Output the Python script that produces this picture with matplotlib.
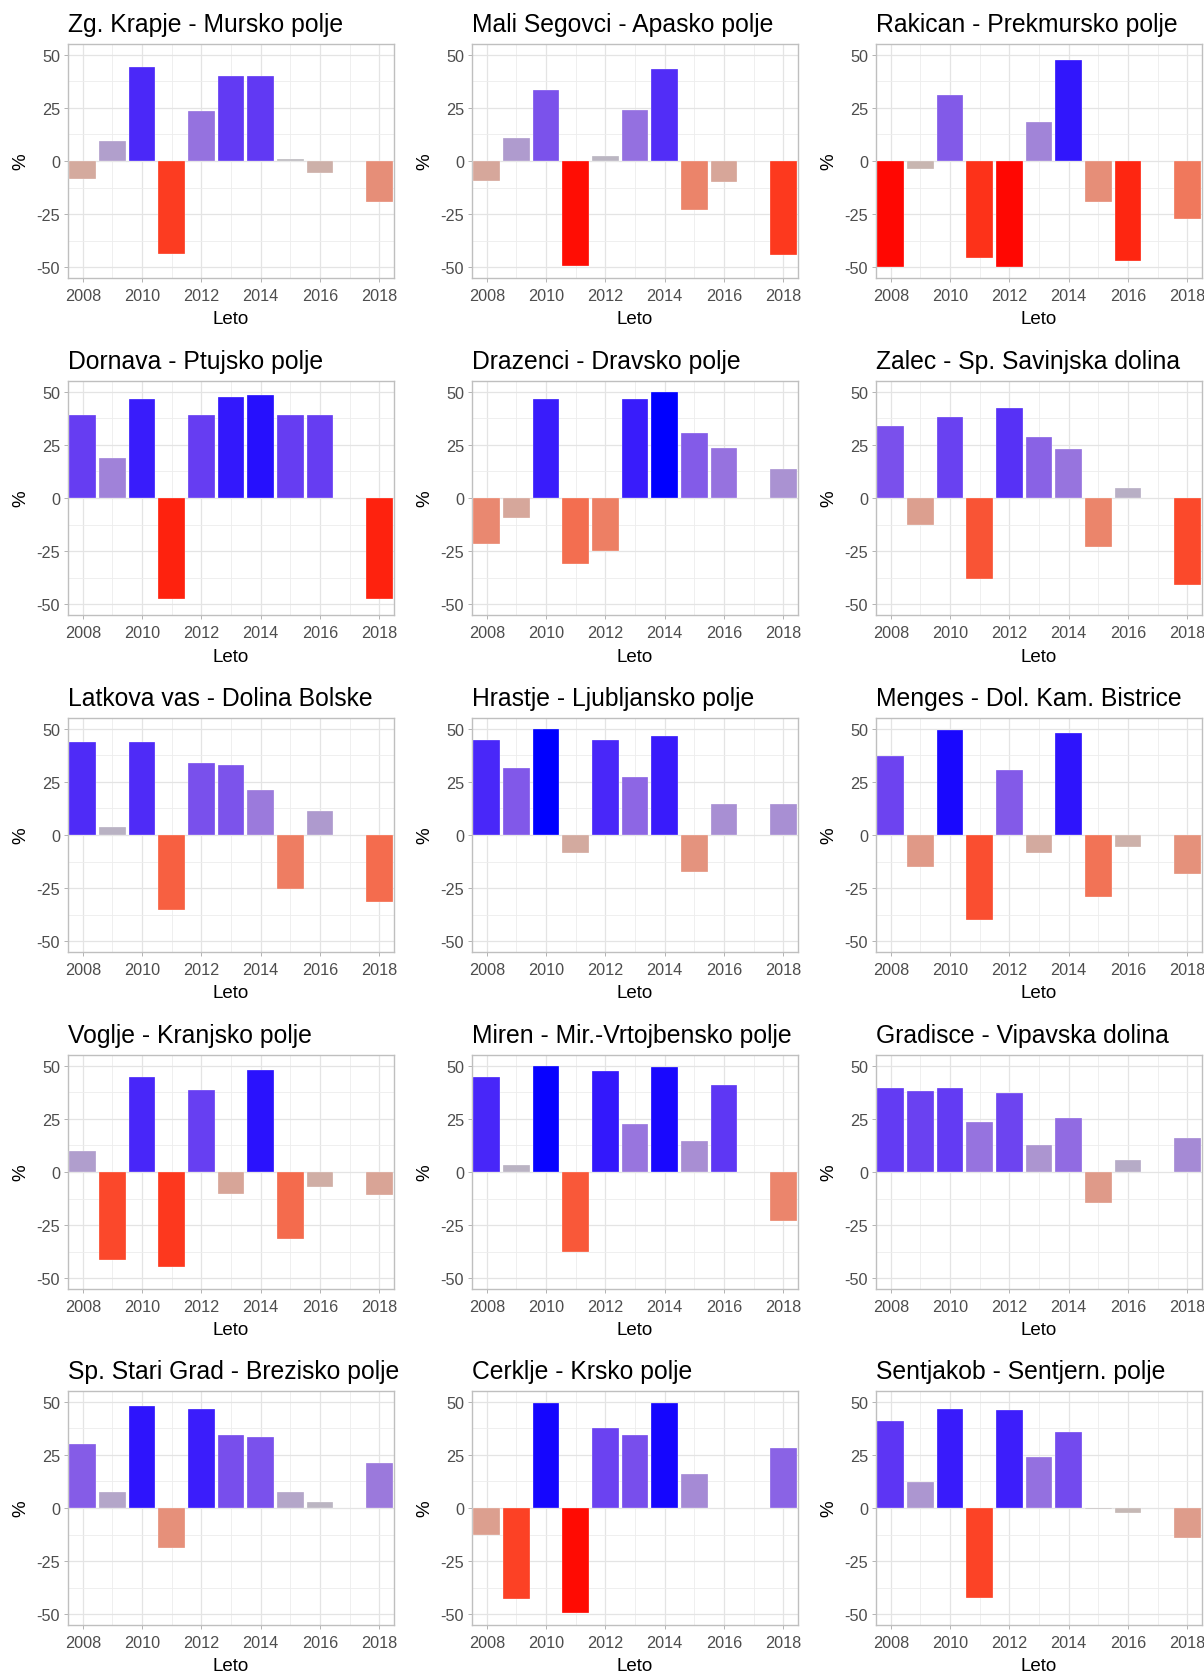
import numpy as np
import matplotlib
matplotlib.use('Agg')
import matplotlib.pyplot as plt

plt.rcParams['font.family'] = ['Liberation Sans', 'DejaVu Sans']

nan = np.nan
years = list(range(2008, 2019))

titles = [
    'Zg. Krapje - Mursko polje', 'Mali Segovci - Apasko polje', 'Rakican - Prekmursko polje',
    'Dornava - Ptujsko polje', 'Drazenci - Dravsko polje', 'Zalec - Sp. Savinjska dolina',
    'Latkova vas - Dolina Bolske', 'Hrastje - Ljubljansko polje', 'Menges - Dol. Kam. Bistrice',
    'Voglje - Kranjsko polje', 'Miren - Mir.-Vrtojbensko polje', 'Gradisce - Vipavska dolina',
    'Sp. Stari Grad - Brezisko polje', 'Cerklje - Krsko polje', 'Sentjakob - Sentjern. polje',
]

zg_krapje = [-8.6, 9.6, 44.2, -43.7, 23.7, 39.8, 40.1, 0.9, -5.8, nan, -19.4]
mali_segovci = [-9.6, 10.8, 33.2, -49.4, 2.4, 24.1, 43.1, -23.2, -10.0, nan, -44.4]
rakican = [-49.7, -3.6, 30.9, -45.6, -49.7, 18.1, 47.5, -19.4, -47.2, nan, -27.4]
dornava = [39.0, 18.6, 46.6, -47.7, 39.0, 47.3, 48.4, 39.0, 39.0, nan, -47.7]
drazenci = [-21.6, -9.5, 46.6, -30.9, -25.0, 46.6, 50.0, 30.6, 23.6, nan, 13.6]
zalec = [33.7, -12.8, 38.1, -38.3, 42.2, 28.6, 23.0, -23.0, 4.8, nan, -41.1]
latkova_vas = [43.5, 3.6, 43.5, -35.1, 33.9, 32.9, 21.0, -25.6, 11.2, nan, -31.3]
hrastje = [44.5, 31.3, 50.0, -8.4, 44.5, 27.2, 46.7, -17.6, 14.7, nan, 14.7]
menges = [37.3, -15.2, 49.2, -39.9, 30.7, -8.4, 47.8, -29.1, -5.5, nan, -18.5]
voglje = [10.1, -41.2, 44.6, -44.5, 38.6, -10.4, 48.1, -31.7, -6.9, nan, -11.0]
miren = [44.6, 3.5, 49.8, -37.4, 47.3, 22.6, 49.2, 14.8, 40.7, nan, -22.9]
gradisce = [39.6, 38.0, 39.6, 23.3, 37.1, 12.6, 25.6, -14.7, 5.8, nan, 16.1]
sp_stari_grad = [30.1, 7.6, 47.8, -18.9, 46.4, 34.2, 33.6, 7.6, 2.7, nan, 21.3]
cerklje = [-12.9, -42.7, 49.4, -49.5, 37.7, 34.2, 49.4, 16.1, nan, nan, 28.2]
sentjakob = [41.0, 12.3, 46.7, -42.4, 46.2, 24.1, 35.6, -0.7, -2.5, nan, -13.9]

series = [zg_krapje, mali_segovci, rakican, dornava, drazenci, zalec,
          latkova_vas, hrastje, menges, voglje, miren, gradisce,
          sp_stari_grad, cerklje, sentjakob]

# diverging fill red - grey - blue, interpolated in Lab like ggplot's gradient2
M = np.array([[0.4124564, 0.3575761, 0.1804375],
              [0.2126729, 0.7151522, 0.0721750],
              [0.0193339, 0.1191920, 0.9503041]])
Minv = np.linalg.inv(M)
white = np.array([0.95047, 1.0, 1.08883])


def to_lab(c):
    c = np.asarray(c, float)
    lin = np.where(c <= 0.04045, c / 12.92, ((c + 0.055) / 1.055) ** 2.4)
    t = (M @ lin) / white
    f = np.where(t > (6 / 29) ** 3, np.cbrt(t), t / (3 * (6 / 29) ** 2) + 4 / 29)
    return np.array([116 * f[1] - 16, 500 * (f[0] - f[1]), 200 * (f[1] - f[2])])


def to_rgb(lab):
    L, a, b = lab
    fy = (L + 16) / 116
    f = np.array([fy + a / 500, fy, fy - b / 200])
    t = np.where(f > 6 / 29, f ** 3, 3 * (6 / 29) ** 2 * (f - 4 / 29))
    lin = Minv @ (t * white)
    lin = np.clip(lin, 0, None)
    c = np.where(lin <= 0.0031308, 12.92 * lin, 1.055 * lin ** (1 / 2.4) - 0.055)
    return tuple(np.clip(c, 0, 1))


lab_low = to_lab([1, 0, 0])
lab_mid = to_lab([190 / 255, 190 / 255, 190 / 255])
lab_high = to_lab([0, 0, 1])


def fill(v):
    t = max(-1.0, min(1.0, v / 50.0))
    end = lab_high if t >= 0 else lab_low
    return to_rgb(lab_mid + abs(t) * (end - lab_mid))


W, H = 1204, 1674
fig = plt.figure(figsize=(W / 100, H / 100), dpi=100)

col_left = [68, 472, 876]
row_top = [45, 382, 719, 1056, 1392]
aw, ah = 326, 234

for k, (title, vals) in enumerate(zip(titles, series)):
    r, c = divmod(k, 3)
    ax = fig.add_axes([col_left[c] / W, 1 - (row_top[r] + ah) / H, aw / W, ah / H])
    x = [yr for yr, v in zip(years, vals) if not np.isnan(v)]
    y = [v for v in vals if not np.isnan(v)]
    ax.bar(x, y, width=0.9, color=[fill(v) for v in y], edgecolor='white', linewidth=0.2, zorder=3)

    ax.set_xlim(2007.5, 2018.5)
    ax.set_ylim(-55, 55)
    ax.set_xticks(range(2008, 2019, 2))
    ax.set_xticks(range(2009, 2018, 2), minor=True)
    ax.set_yticks([-50, -25, 0, 25, 50])
    ax.set_yticklabels(['-50', '-25', '0', '25', '50'])
    ax.set_yticks([-37.5, -12.5, 12.5, 37.5], minor=True)
    ax.grid(which='major', color='#E4E4E4', linewidth=0.9, zorder=0)
    ax.grid(which='minor', color='#EDEDED', linewidth=0.6, zorder=0)
    ax.set_axisbelow(True)
    ax.tick_params(which='major', length=2.8, width=0.7, color='#B3B3B3',
                   labelsize=11.7, labelcolor='#4D4D4D', pad=3)
    ax.tick_params(axis='x', which='major', pad=4.2)
    ax.tick_params(which='minor', length=0)
    for s in ax.spines.values():
        s.set_color('#BFBFBF')
        s.set_linewidth(1.0)

    ax.set_title(title, loc='left', fontsize=17.8, pad=9.5, color='black')
    ax.set_xlabel('Leto', fontsize=13.5, va='center')
    ax.xaxis.set_label_coords(0.5, -41 / ah)
    ax.set_ylabel('%', fontsize=13.5, va='center')
    ax.yaxis.set_label_coords(-47 / aw, 0.5)

fig.savefig('out.png', dpi=100, facecolor='white')
